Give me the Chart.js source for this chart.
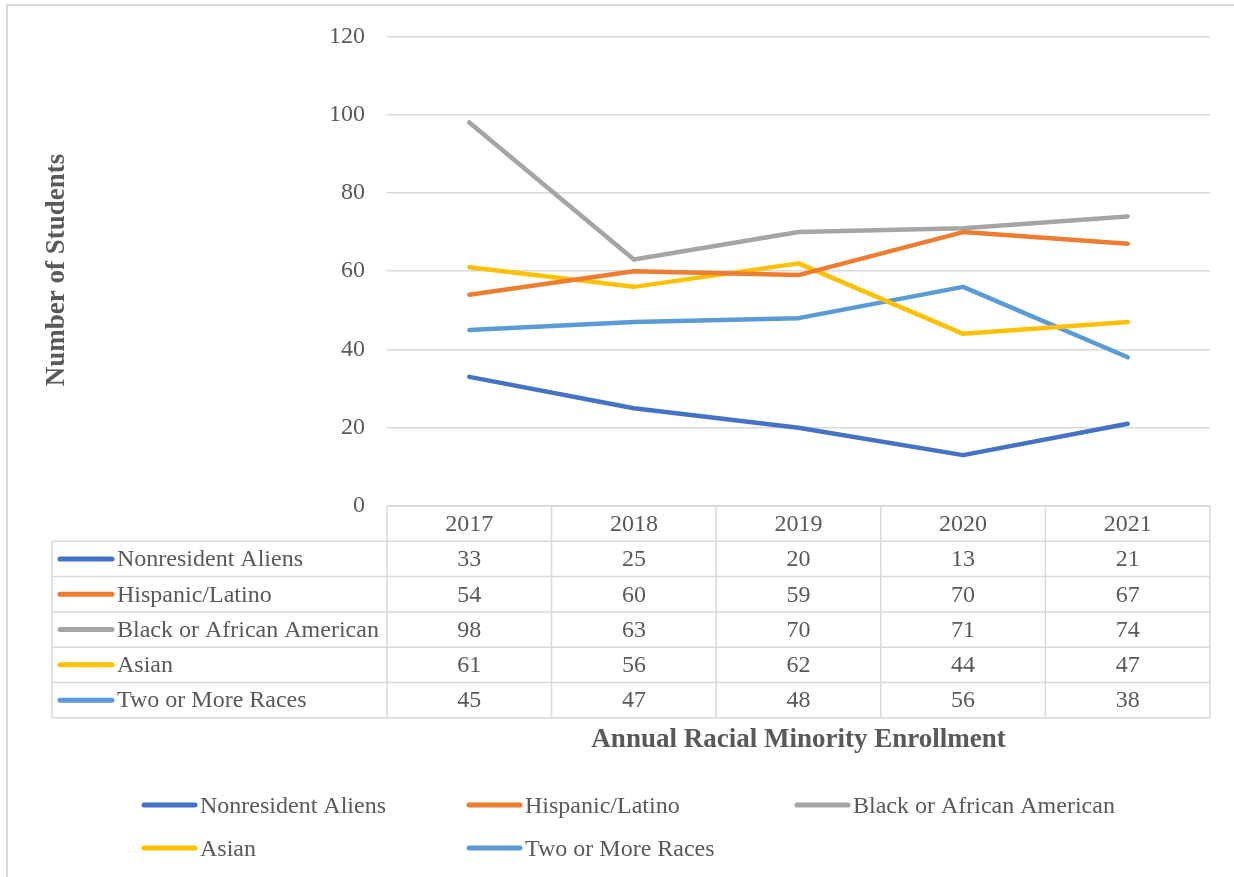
<!DOCTYPE html>
<html>
<head>
<meta charset="utf-8">
<script src="https://cdn.jsdelivr.net/npm/chart.js@4/dist/chart.umd.min.js"></script>
<style>
  html, body { margin: 0; padding: 0; background: #ffffff; }
  #wrap { width: 1234px; height: 877px; position: relative; }
  canvas { display: block; }
</style>
</head>
<body>
<div id="wrap"><canvas id="c" width="1234" height="877"></canvas></div>
<script>
// Enrollment by year for each group
const years = ['2017', '2018', '2019', '2020', '2021'];
const nonresidentAliens = [33, 25, 20, 13, 21];
const hispanicLatino = [54, 60, 59, 70, 67];
const blackAfricanAmerican = [98, 63, 70, 71, 74];
const asian = [61, 56, 62, 44, 47];
const twoOrMoreRaces = [45, 47, 48, 56, 38];
const seriesNames = ['Nonresident Aliens', 'Hispanic/Latino', 'Black or African American', 'Asian', 'Two or More Races'];
const seriesColors = ['#4472C4', '#ED7D31', '#A5A5A5', '#FFC000', '#5B9BD5'];
const seriesValues = [nonresidentAliens, hispanicLatino, blackAfricanAmerican, asian, twoOrMoreRaces];
const yTicks = [0, 20, 40, 60, 80, 100, 120];
const xTitle = 'Annual Racial Minority Enrollment';
const yTitle = 'Number of Students';

const FONT = '"Liberation Serif", "Times New Roman", serif';
const TEXT = '#595959';
const GRID = '#d9d9d9';

// Data table under the plot, legend rows, axis titles and frame
const decorations = {
  id: 'decorations',
  afterDraw(chart) {
    const ctx = chart.ctx;
    const area = chart.chartArea;
    const xs = chart.scales.x;
    const half = (xs.getPixelForValue(1) - xs.getPixelForValue(0)) / 2;
    const rowH = 35.3;
    const tableTop = area.bottom;
    const nRows = seriesNames.length;
    const tableBottom = tableTop + rowH * (nRows + 1);
    const labelLeft = 52;

    ctx.save();
    // outer frame (left and top edges)
    ctx.strokeStyle = GRID;
    ctx.lineWidth = 2;
    ctx.beginPath();
    ctx.moveTo(7, 877); ctx.lineTo(7, 5); ctx.lineTo(1234, 5);
    ctx.stroke();

    // table grid
    ctx.lineWidth = 1.5;
    ctx.beginPath();
    ctx.moveTo(area.left, tableTop); ctx.lineTo(area.right, tableTop);
    for (let r = 1; r <= nRows + 1; r++) {
      const y = tableTop + rowH * r;
      ctx.moveTo(labelLeft, y); ctx.lineTo(area.right, y);
    }
    for (let i = 0; i < years.length; i++) {
      const x = xs.getPixelForValue(i) - half;
      ctx.moveTo(x, tableTop); ctx.lineTo(x, tableBottom);
    }
    ctx.moveTo(area.right, tableTop); ctx.lineTo(area.right, tableBottom);
    ctx.moveTo(labelLeft, tableTop + rowH); ctx.lineTo(labelLeft, tableBottom);
    ctx.stroke();

    ctx.fillStyle = TEXT;
    ctx.font = '24px ' + FONT;
    ctx.textAlign = 'center';
    ctx.textBaseline = 'middle';
    years.forEach((yr, i) => {
      ctx.fillText(yr, xs.getPixelForValue(i), tableTop + rowH / 2 + 1);
    });
    seriesNames.forEach((name, r) => {
      const cy = tableTop + rowH * (r + 1.5) + 1;
      ctx.strokeStyle = seriesColors[r];
      ctx.lineWidth = 5;
      ctx.lineCap = 'round';
      ctx.beginPath();
      ctx.moveTo(60, cy - 1); ctx.lineTo(112, cy - 1);
      ctx.stroke();
      ctx.fillStyle = TEXT;
      ctx.textAlign = 'left';
      ctx.fillText(name, 117, cy);
      ctx.textAlign = 'center';
      seriesValues[r].forEach((v, i) => {
        ctx.fillText(String(v), xs.getPixelForValue(i), cy);
      });
    });

    // axis titles
    ctx.font = 'bold 27px ' + FONT;
    ctx.fillStyle = TEXT;
    ctx.textAlign = 'center';
    ctx.fillText(xTitle, (area.left + area.right) / 2, 740);
    ctx.save();
    ctx.translate(57, 270);
    ctx.rotate(-Math.PI / 2);
    ctx.fillText(yTitle, 0, 0);
    ctx.restore();

    // legend
    ctx.font = '24px ' + FONT;
    ctx.textAlign = 'left';
    const colX = [142, 467, 795];
    const rowY = [806, 849];
    seriesNames.forEach((name, i) => {
      const x = colX[i % 3];
      const y = rowY[Math.floor(i / 3)];
      ctx.strokeStyle = seriesColors[i];
      ctx.lineWidth = 5;
      ctx.lineCap = 'round';
      ctx.beginPath();
      ctx.moveTo(x + 2, y - 1); ctx.lineTo(x + 53, y - 1);
      ctx.stroke();
      ctx.fillStyle = TEXT;
      ctx.fillText(name, x + 58, y + 1);
    });
    ctx.restore();
  }
};

new Chart(document.getElementById('c'), {
  type: 'line',
  data: {
    labels: years,
    datasets: seriesNames.map((name, i) => ({
      label: name,
      data: seriesValues[i],
      borderColor: seriesColors[i],
      backgroundColor: seriesColors[i],
      borderWidth: 4.5,
      borderCapStyle: 'round',
      borderJoinStyle: 'round',
      pointRadius: 0,
      tension: 0,
      clip: false
    }))
  },
  options: {
    responsive: false,
    animation: false,
    devicePixelRatio: 1,
    layout: { padding: { left: 287, right: 24, top: 35, bottom: 371 } },
    plugins: { legend: { display: false }, tooltip: { enabled: false } },
    scales: {
      x: { display: false, offset: true },
      y: {
        min: 0, max: 120,
        afterFit(s) { s.width = 100; },
        afterBuildTicks(s) { s.ticks = yTicks.map(v => ({ value: v })); },
        border: { display: false },
        grid: { color: GRID, lineWidth: 1.5, drawTicks: false },
        ticks: { color: TEXT, padding: 22, font: { family: FONT, size: 24 } }
      }
    }
  },
  plugins: [decorations]
});
</script>
</body>
</html>
